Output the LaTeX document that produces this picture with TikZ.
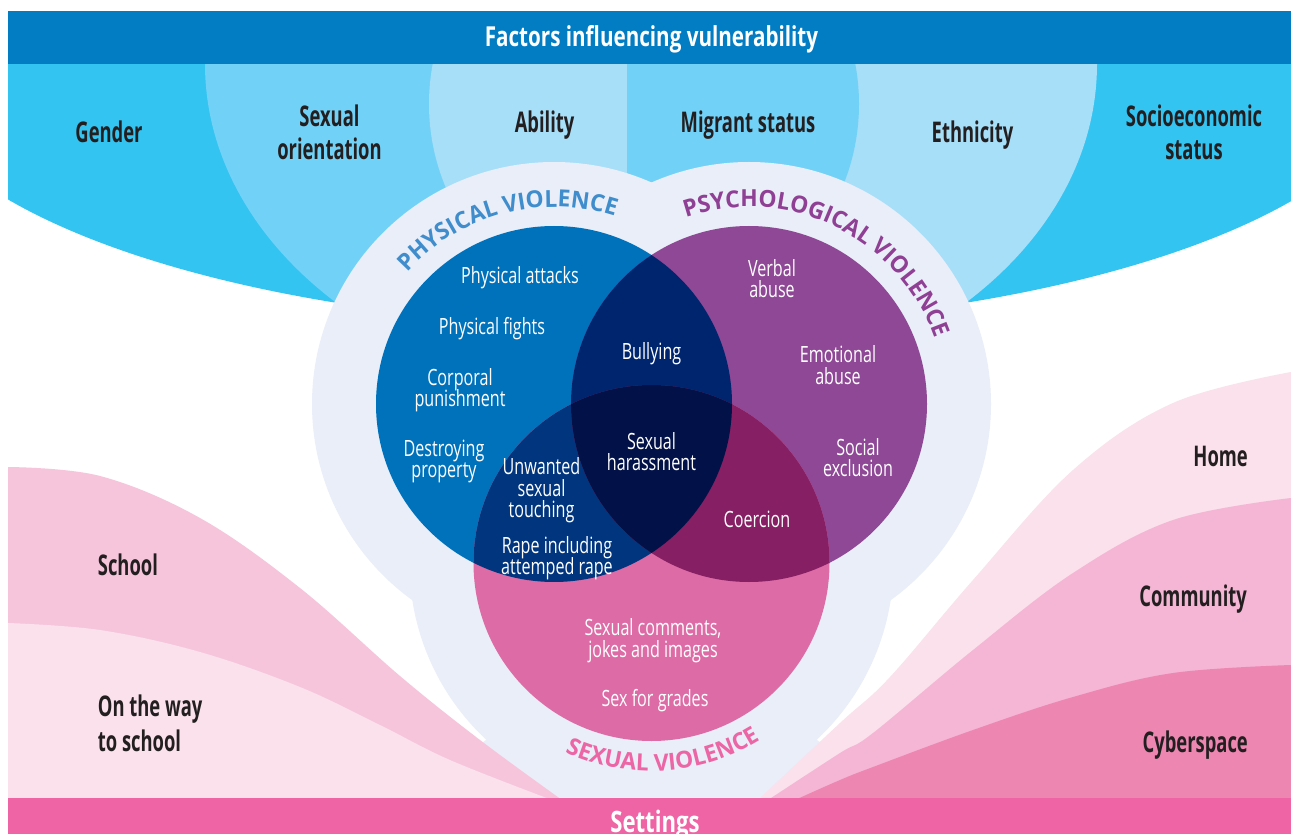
\documentclass[tikz,border=0pt]{standalone}
\usepackage{fontspec}
\setmainfont{Open Sans}
\newfontfamily\condreg[FakeStretch=0.72]{Open Sans}
\newfontfamily\condbold[FakeStretch=0.645]{Open Sans}
\newfontfamily\headbold[FakeStretch=0.75]{Open Sans}
\newfontfamily\arcfont[FakeStretch=0.97]{Open Sans}
\usetikzlibrary{decorations.text}

\definecolor{topband}{HTML}{027DC3}
\definecolor{cyanA}{HTML}{33C4F1}
\definecolor{cyanB}{HTML}{72D1F6}
\definecolor{cyanC}{HTML}{A7DEF8}
\definecolor{ring}{HTML}{E9EEF8}
\definecolor{phys}{HTML}{0072BC}
\definecolor{psych}{HTML}{8E4896}
\definecolor{sexv}{HTML}{DD6CA6}
\definecolor{physpsych}{HTML}{00256F}
\definecolor{physsex}{HTML}{01367F}
\definecolor{psychsex}{HTML}{861F63}
\definecolor{allthree}{HTML}{021249}
\definecolor{physlab}{HTML}{3F8DCC}
\definecolor{psychlab}{HTML}{8F3F94}
\definecolor{sexlab}{HTML}{EC66A6}
\definecolor{waveA}{HTML}{F6C5DB}
\definecolor{waveB}{HTML}{FAE1EC}
\definecolor{waveC}{HTML}{F4B6D4}
\definecolor{waveD}{HTML}{EE86B2}
\definecolor{setband}{HTML}{EF64A4}
\definecolor{ink}{HTML}{231F20}

\tikzset{
  heading/.style={font=\headbold\bfseries\fontsize{27.5}{30}\selectfont, text=white, inner sep=0pt, anchor=base},
  factor/.style={font=\condbold\bfseries\fontsize{28.5}{30}\selectfont, text=ink, inner sep=0pt, anchor=base},
  item/.style={font=\condreg\fontsize{22.4}{22}\selectfont, text=white, inner sep=0pt, anchor=base},
  arclabel/.style={decorate, decoration={text along path, text align=center,
      text={|\arcfont\bfseries\fontsize{23.5}{24}\selectfont|#1}}},
}

\begin{document}
\begin{tikzpicture}[x=1pt,y=-1pt]
\useasboundingbox (0,0) rectangle (1291,834);
\fill[white] (0,0) rectangle (1291,834);

% fan of vulnerability factors under the heading band
\begin{scope}
  \clip (8,64) rectangle (1291,560);
  \fill[cyanA] (651,64) ellipse[x radius=750pt, y radius=263pt];
  \begin{scope}
    \clip (0,0) rectangle (651,600);
    \fill[cyanB] (651,64) ellipse[x radius=446pt, y radius=337pt];
  \end{scope}
  \begin{scope}
    \clip (651,0) rectangle (1291,600);
    \fill[cyanC] (651,64) ellipse[x radius=446pt, y radius=337pt];
  \end{scope}
  \begin{scope}
    \clip (0,0) rectangle (627,600);
    \fill[cyanC] (644,104) circle[radius=215pt];
  \end{scope}
  \begin{scope}
    \clip (627,0) rectangle (1291,600);
    \fill[cyanB] (644,104) circle[radius=215pt];
  \end{scope}
\end{scope}

\fill[topband] (8,11) rectangle (1291,64);
\node[heading] (title) at (651.5,46.7) {Factors influencing vulnerability};

\node[factor] (gender) at (109,143) {Gender};
\node[factor] (sexor1) at (329.5,127) {Sexual};
\node[factor] (sexor2) at (329.5,160) {orientation};
\node[factor] (ability) at (544.6,133) {Ability};
\node[factor] (migrant) at (748,133) {Migrant status};
\node[factor] (ethnic) at (972.5,143) {Ethnicity};
\node[factor] (socio1) at (1194,127) {Socioeconomic};
\node[factor] (socio2) at (1194,160) {status};

% light ring behind the three circles
\fill[ring] (554,404) circle[radius=242pt];
\fill[ring] (749,404) circle[radius=242pt];
\fill[ring] (651.5,563) circle[radius=242pt];
\fill[ring] (486,740) -- (817,740) -- (900,800) -- (400,800) -- cycle;

% settings waves
\fill[waveA] plot[smooth, tension=0.6] coordinates
  {(8,467) (100,476) (200,518) (300,588) (400,676) (480,740) (562,800)}
  -- (8,800) -- cycle;
\fill[waveB] plot[smooth, tension=0.6] coordinates
  {(8,623) (100,630) (200,652) (300,687) (380,725) (450,760) (552,800)}
  -- (8,800) -- cycle;
\fill[waveB] plot[smooth, tension=0.6] coordinates
  {(758,800) (840,723) (890,677) (973,580) (1073,470) (1173,403) (1291,372)}
  -- (1291,800) -- cycle;
\fill[waveC] plot[smooth, tension=0.6] coordinates
  {(768,800) (840,753) (873,733) (973,650) (1073,573) (1173,520) (1291,498)}
  -- (1291,800) -- cycle;
\fill[waveD] plot[smooth, tension=0.6] coordinates
  {(795,800) (840,780) (873,767) (973,730) (1073,697) (1173,673) (1291,665)}
  -- (1291,800) -- cycle;

\node[factor, anchor=base west] (school) at (97.7,575) {School};
\node[factor, anchor=base west] (way1) at (97.7,716.7) {On the way};
\node[factor, anchor=base west] (way2) at (97.7,751.7) {to school};
\node[factor, anchor=base east] (home) at (1248,466) {Home};
\node[factor, anchor=base east] (community) at (1247,606.7) {Community};
\node[factor, anchor=base east] (cyber) at (1248,752.7) {Cyberspace};

\fill[setband] (8,798) rectangle (1291,840);
\node[heading, font=\headbold\bfseries\fontsize{29.5}{30}\selectfont] (settings) at (655,832) {Settings};

% the three forms of violence and their overlaps
\fill[phys] (554,404) circle[radius=178pt];
\fill[psych] (749,404) circle[radius=178pt];
\fill[sexv] (651.5,563) circle[radius=178pt];
\begin{scope}
  \clip (554,404) circle[radius=178pt];
  \fill[physpsych] (749,404) circle[radius=178pt];
  \fill[physsex] (651.5,563) circle[radius=178pt];
\end{scope}
\begin{scope}
  \clip (749,404) circle[radius=178pt];
  \fill[psychsex] (651.5,563) circle[radius=178pt];
\end{scope}
\begin{scope}
  \clip (554,404) circle[radius=178pt];
  \clip (749,404) circle[radius=178pt];
  \fill[allthree] (651.5,563) circle[radius=178pt];
\end{scope}

\path[arclabel={PHYSICAL VIOLENCE}, decoration={text color=physlab}]
  (554,404) ++(150:197pt) arc[start angle=150, end angle=60, radius=197pt];
\path[arclabel={PSYCHOLOGICAL VIOLENCE}, decoration={text color=psychlab}]
  (749,404) ++(115:197pt) arc[start angle=115, end angle=13, radius=197pt];
\path[arclabel={SEXUAL VIOLENCE}, decoration={text color=sexlab}]
  (651.5,563) ++(-140:208pt) arc[start angle=-140, end angle=-33, radius=208pt];

\node[item] (attacks) at (520,283.5) {Physical attacks};
\node[item] (fights) at (492,334.5) {Physical fights};
\node[item] (corp1) at (460,385.5) {Corporal};
\node[item] (corp2) at (460,406.5) {punishment};
\node[item] (destr1) at (444,456.5) {Destroying};
\node[item] (destr2) at (444,477.5) {property};
\node[item] (bully) at (651.5,359.5) {Bullying};
\node[item] (harass1) at (651.5,449.5) {Sexual};
\node[item] (harass2) at (651.5,470.5) {harassment};
\node[item] (verbal1) at (772,276.5) {Verbal};
\node[item] (verbal2) at (772,297.5) {abuse};
\node[item] (emo1) at (838,362.5) {Emotional};
\node[item] (emo2) at (838,384.5) {abuse};
\node[item] (social1) at (858,455.5) {Social};
\node[item] (social2) at (858,476.5) {exclusion};
\node[item] (touch1) at (541.5,474.5) {Unwanted};
\node[item] (touch2) at (541.5,496) {sexual};
\node[item] (touch3) at (541.5,517) {touching};
\node[item] (rape1) at (557,553) {Rape including};
\node[item] (rape2) at (557,574) {attemped rape};
\node[item] (coerc) at (757,527) {Coercion};
\node[item] (comm1) at (653,635.5) {Sexual comments,};
\node[item] (comm2) at (653,657) {jokes and images};
\node[item] (grades) at (655,706.5) {Sex for grades};
\end{tikzpicture}
\end{document}
